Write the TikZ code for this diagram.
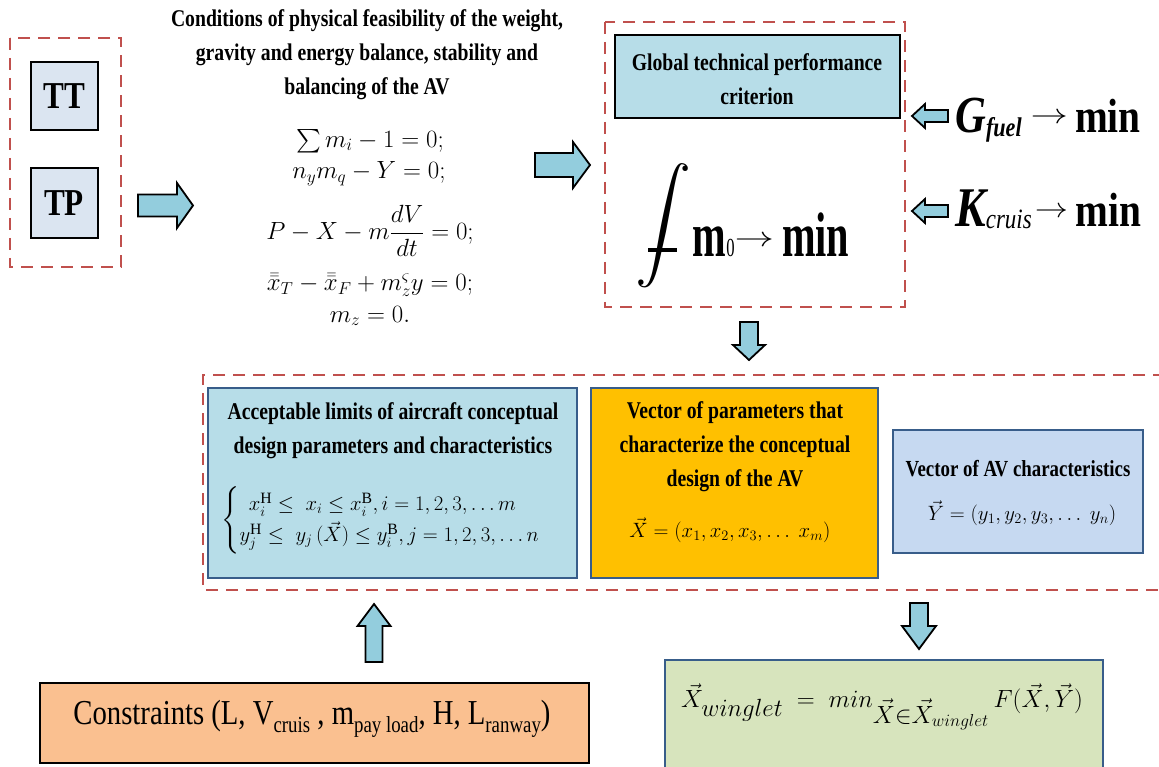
\documentclass[tikz,border=0pt]{standalone}
\usepackage{graphicx}
\usepackage{amsmath}
\usepackage{amssymb}
\usepackage{fontspec}
\setmainfont{Liberation Serif}
\newfontfamily\cond[FakeStretch=0.82]{Liberation Serif}
\newfontfamily\narrowf[FakeStretch=0.64]{Liberation Serif}
\definecolor{dashc}{HTML}{C0504D}
\definecolor{ttc}{HTML}{DBE5F1}
\definecolor{critc}{HTML}{B7DDE8}
\definecolor{arrc}{HTML}{93CDDD}
\definecolor{bordc}{HTML}{385D8A}
\definecolor{orc}{HTML}{FFC000}
\definecolor{lbc}{HTML}{C6D9F1}
\definecolor{conc}{HTML}{FAC090}
\definecolor{grc}{HTML}{D7E4BD}
% block arrow: name, position, angle, length, shaft width, head width, head length
\newcommand\blockarrow[7]{%
  \begin{scope}[shift={#2},rotate=#3]
    \draw[barrow] (-#4/2,-#5/2) -- ({#4/2-#7},-#5/2) -- ({#4/2-#7},-#6/2) -- (#4/2,0)
      -- ({#4/2-#7},#6/2) -- ({#4/2-#7},#5/2) -- (-#4/2,#5/2) -- cycle;
    \coordinate (#1) at (0,0);
  \end{scope}}
% thin long arrow: horizontal scale, raise
\newcommand\thinarrow[2]{\raisebox{#2}{\scalebox{#1}[1.35]{\fontsize{20.74}{22}\selectfont$\rightarrow$}}}
\begin{document}
\begin{tikzpicture}[x=1pt,y=-1pt,
  dashbox/.style={draw=dashc,line width=2.2pt,dash pattern=on 12pt off 8pt},
  blackbox/.style={draw=black,line width=2pt,inner sep=0pt},
  bluebox/.style={draw=bordc,line width=2.6pt,inner sep=0pt},
  ttl/.style={font=\cond\bfseries\fontsize{24}{34}\selectfont,align=center,inner sep=0pt},
  eqn/.style={font=\fontsize{23.5}{27}\selectfont,inner sep=0pt},
  barrow/.style={draw=black,line width=1.8pt,fill=arrc,line join=miter},
]
\useasboundingbox (0,0) rectangle (1159,767);

% left group
\draw[dashbox] (10,38) rectangle (121,267);
\node[blackbox,fill=ttc,minimum width=67,minimum height=68,font=\cond\bfseries\fontsize{38}{40}\selectfont] (tt) at (64,96) {TT};
\node[blackbox,fill=ttc,minimum width=67,minimum height=70,font=\cond\bfseries\fontsize{38}{40}\selectfont] (tp) at (64,203) {TP};
\blockarrow{a1}{(165.5,205.5)}{0}{55}{22}{45}{16}

% conditions
\node[ttl] (cond) at (367,55) {Conditions of physical feasibility of the weight,\\gravity and energy balance, stability and\\balancing of the AV};
\node[eqn] (e1) at (370,141) {$\sum m_i - 1 = 0;$};
\node[eqn] (e2) at (369,174) {$n_y m_q - Y = 0;$};
\node[eqn] (e3) at (370,231) {$P - X - m\dfrac{dV}{dt} = 0;$};
\node[eqn] (e4) at (370,285) {$\bar{\bar{x}}_T - \bar{\bar{x}}_F + m_z^{\varsigma} y = 0;$};
\node[eqn] (e5) at (370,316) {$m_z = 0.$};
\blockarrow{a2}{(562.5,165)}{0}{55}{24}{46}{17}

% criterion group
\draw[dashbox] (605,22) rectangle (905,307);
\node[blackbox,fill=critc,minimum width=285,minimum height=83] (crit) at (757.5,77) {};
\node[ttl] (critt) at (757,79) {Global technical performance\\criterion};
\node[inner sep=0pt,font=\fontsize{56}{56}\selectfont] (intg) at (663,226) {$\displaystyle\int$};
\draw[line width=3.5pt] (648,250) -- (677,250);
\node[anchor=base,inner sep=0pt,font=\narrowf\bfseries\fontsize{63}{63}\selectfont] (m0) at (771,257) {m{\mdseries\fontsize{26}{26}\selectfont 0}\thinarrow{1.9}{10pt}\hspace{8pt}min};

\blockarrow{a3}{(930,116)}{180}{36}{12}{24}{13}
\blockarrow{a4}{(930,211)}{180}{36}{12}{24}{13}
\node[anchor=base west,inner sep=0pt,font=\cond\bfseries\fontsize{48}{48}\selectfont] (gf) at (955,133) {{\itshape\fontsize{52}{52}\selectfont G\raisebox{-4pt}{\fontsize{27}{27}\selectfont fuel}}\hspace{9pt}\thinarrow{1.8}{9pt}\hspace{7pt}min};
\node[anchor=base west,inner sep=0pt,font=\cond\bfseries\fontsize{48}{48}\selectfont] (kc) at (955,227) {{\itshape\fontsize{56}{56}\selectfont K\raisebox{-2pt}{\mdseries\fontsize{28}{28}\selectfont cruis}}\hspace{3pt}\thinarrow{1.6}{9pt}\hspace{8pt}min};

\blockarrow{a5}{(749,341)}{-90}{38}{18}{32}{15}

% big dashed group
\draw[dashbox] (1165,375) -- (203,375) -- (203,590) -- (1165,590);
\node[bluebox,fill=critc,minimum width=369,minimum height=190] (acc) at (392.5,483) {};
\node[ttl] (acct) at (393,431) {Acceptable limits of aircraft conceptual\\design parameters and characteristics};
\node[eqn,font=\fontsize{22.5}{26}\selectfont] (acce) at (392,520) {$\begin{cases} \;\,x_i^{\mathrm{H}} \le\; x_i \le x_i^{\mathrm{B}}, i = 1, 2, 3, \dots m\\ y_j^{\mathrm{H}} \le\; y_j\,(\vec{X}) \le y_i^{\mathrm{B}}, j = 1, 2, 3, \dots n\end{cases}$};

\node[bluebox,fill=orc,minimum width=287,minimum height=190] (vx) at (734.5,483) {};
\node[ttl] (vxt) at (735,447) {Vector of parameters that\\characterize the conceptual\\design of the AV};
\node[eqn,font=\fontsize{21}{25}\selectfont] (vxe) at (730,530) {$\vec{X} = (x_1, x_2, x_3, \dots\ x_m)$};

\node[bluebox,fill=lbc,minimum width=250,minimum height=123] (vy) at (1018,491.5) {};
\node[ttl,font=\cond\bfseries\fontsize{23}{26}\selectfont] (vyt) at (1018,469) {Vector of AV characteristics};
\node[eqn,font=\fontsize{21}{25}\selectfont] (vye) at (1022,513) {$\vec{Y} = (y_1, y_2, y_3, \dots\ y_n)$};

% bottom
\blockarrow{a6}{(374,633)}{90}{58}{17}{33}{22}
\node[blackbox,fill=conc,minimum width=549,minimum height=80] (con) at (314.5,723) {};
\node[inner sep=0pt,font=\cond\fontsize{35}{38}\selectfont] (cont) at (312,719) {Constraints (L, V\raisebox{-8pt}{\fontsize{23}{23}\selectfont cruis} , m\raisebox{-8pt}{\fontsize{23}{23}\selectfont pay load}, H, L\raisebox{-8pt}{\fontsize{23}{23}\selectfont ranway})};

\blockarrow{a7}{(919,626)}{-90}{46}{18}{34}{23}
\node[bluebox,fill=grc,minimum width=438,minimum height=130] (res) at (884,725) {};
\node[eqn,font=\fontsize{33}{37}\selectfont] (rese) at (882,707) {$\vec{X}_{winglet} \;=\; min_{\vec{X}\in\vec{X}_{winglet}}\, F(\vec{X},\vec{Y})$};
\end{tikzpicture}
\end{document}
